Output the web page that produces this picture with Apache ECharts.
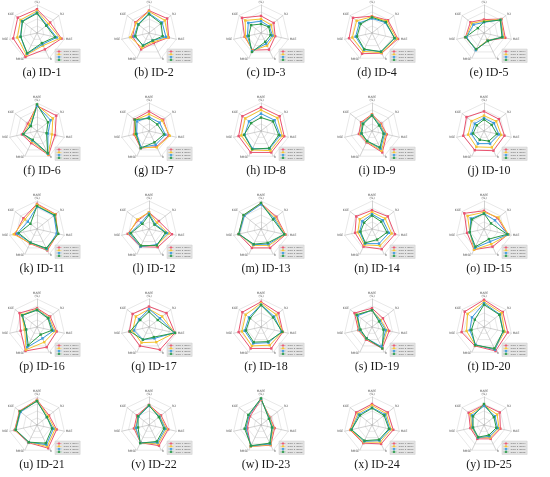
<!DOCTYPE html>
<html><head><meta charset="utf-8">
<script src="https://cdn.jsdelivr.net/npm/echarts@6/dist/echarts.min.js"></script>
<style>html,body{margin:0;padding:0;background:#fff}#c{width:550px;height:477px}</style>
</head><body><div id="c"></div>
<script>
// legend / series names (one per polygon colour)
const seriesNames = ['Case 1 (2019)', 'Case 2 (2020)', 'Case 3 (2021)', 'Case 4 (2022)'];
// axis names, clockwise starting from the top axis
const axisNames = ['MAPE\n(%)', 'R2', 'MAE', 'R', 'RMSE', 'NSE', 'KGE'];
const panelLabels = ['(a) ID-1','(b) ID-2','(c) ID-3','(d) ID-4','(e) ID-5',
  '(f) ID-6','(g) ID-7','(h) ID-8','(i) ID-9','(j) ID-10',
  '(k) ID-11','(l) ID-12','(m) ID-13','(n) ID-14','(o) ID-15',
  '(p) ID-16','(q) ID-17','(r) ID-18','(s) ID-19','(t) ID-20',
  '(u) ID-21','(v) ID-22','(w) ID-23','(x) ID-24','(y) ID-25'];

// values per panel: rows = series (red, yellow, blue, green); columns = axes clockwise from top
const ID1 = [[0.85,0.6,0.9,0.65,0.95,0.87,0.88],[0.79,0.52,0.85,0.5,0.87,0.72,0.75],[0.73,0.45,0.72,0.45,0.82,0.6,0.68],[0.7,0.42,0.66,0.4,0.8,0.6,0.66]];
const ID2 = [[0.8,0.83,0.72,0.4,0.65,0.6,0.62],[0.77,0.72,0.7,0.35,0.58,0.68,0.58],[0.7,0.6,0.62,0.3,0.48,0.55,0.5],[0.67,0.55,0.5,0.3,0.5,0.5,0.48]];
const ID3 = [[0.61,0.58,0.52,0.66,0.68,0.6,0.87],[0.5,0.46,0.46,0.5,0.7,0.57,0.72],[0.42,0.38,0.42,0.42,0.72,0.5,0.58],[0.32,0.35,0.35,0.35,0.75,0.45,0.45]];
const ID4 = [[0.6,0.73,0.95,0.8,0.82,0.84,0.87],[0.58,0.68,0.9,0.78,0.73,0.72,0.7],[0.52,0.6,0.84,0.74,0.66,0.6,0.58],[0.56,0.63,0.82,0.74,0.64,0.55,0.52]];
const ID5 = [[0.48,0.8,0.78,0.3,0.65,0.68,0.62],[0.43,0.78,0.72,0.28,0.66,0.66,0.55],[0.38,0.76,0.68,0.3,0.68,0.64,0.48],[0.4,0.74,0.66,0.32,0.64,0.68,0.28]];
const ID6 = [[0.9,0.88,0.66,0.95,0.48,0.55,0.42],[0.93,0.72,0.55,0.93,0.42,0.5,0.36],[0.9,0.62,0.4,0.9,0.38,0.5,0.3],[0.95,0.5,0.35,0.88,0.35,0.5,0.28]];
const ID7 = [[0.7,0.65,0.72,0.62,0.68,0.55,0.67],[0.6,0.6,0.76,0.65,0.65,0.52,0.63],[0.5,0.48,0.6,0.55,0.65,0.45,0.55],[0.45,0.38,0.55,0.45,0.68,0.48,0.65]];
const ID8 = [[0.85,0.85,0.85,0.85,0.85,0.82,0.85],[0.75,0.75,0.78,0.78,0.75,0.72,0.72],[0.62,0.62,0.7,0.7,0.7,0.6,0.55],[0.48,0.55,0.65,0.68,0.72,0.62,0.45]];
const ID9 = [[0.6,0.42,0.54,0.85,0.45,0.48,0.5],[0.58,0.38,0.5,0.78,0.42,0.43,0.46],[0.56,0.35,0.46,0.7,0.4,0.4,0.43],[0.55,0.32,0.42,0.65,0.4,0.38,0.4]];
const ID10 = [[0.7,0.68,0.75,0.78,0.76,0.76,0.8],[0.55,0.56,0.63,0.65,0.63,0.58,0.57],[0.46,0.45,0.55,0.5,0.5,0.46,0.42],[0.41,0.35,0.47,0.4,0.35,0.4,0.33]];
const ID11 = [[0.9,0.85,0.76,0.85,0.58,0.8,0.62],[0.87,0.83,0.76,0.82,0.56,0.85,0.55],[0.8,0.78,0.72,0.8,0.54,0.73,0.42],[0.82,0.8,0.78,0.76,0.54,0.67,0.3]];
const ID12 = [[0.6,0.45,0.84,0.72,0.7,0.78,0.5],[0.6,0.36,0.72,0.65,0.67,0.73,0.54],[0.55,0.28,0.66,0.62,0.7,0.7,0.36],[0.5,0.25,0.6,0.65,0.66,0.66,0.3]];
const ID13 = [[0.92,0.7,0.9,0.75,0.75,0.82,0.78],[0.9,0.65,0.88,0.65,0.65,0.8,0.78],[0.88,0.6,0.85,0.6,0.62,0.8,0.76],[0.93,0.55,0.85,0.55,0.6,0.82,0.8]];
const ID14 = [[0.67,0.72,0.84,0.8,0.7,0.62,0.72],[0.6,0.6,0.72,0.66,0.63,0.52,0.56],[0.53,0.5,0.62,0.58,0.58,0.45,0.44],[0.48,0.42,0.55,0.42,0.55,0.42,0.36]];
const ID15 = [[0.65,0.62,0.88,0.7,0.82,0.62,0.9],[0.6,0.66,0.9,0.6,0.82,0.52,0.75],[0.55,0.5,0.88,0.5,0.75,0.52,0.6],[0.55,0.32,0.85,0.4,0.7,0.52,0.55]];
const ID16 = [[0.67,0.6,0.72,0.8,0.95,0.6,0.8],[0.64,0.55,0.66,0.6,0.9,0.45,0.7],[0.62,0.52,0.6,0.45,0.8,0.4,0.67],[0.6,0.5,0.54,0.3,0.72,0.4,0.67]];
const ID17 = [[0.73,0.8,0.95,0.9,0.75,0.72,0.75],[0.64,0.6,0.94,0.6,0.62,0.6,0.6],[0.64,0.5,0.93,0.45,0.5,0.55,0.45],[0.55,0.4,0.95,0.4,0.5,0.7,0.4]];
const ID18 = [[0.9,0.8,0.8,0.85,0.85,0.82,0.85],[0.85,0.7,0.78,0.72,0.75,0.7,0.7],[0.8,0.6,0.75,0.62,0.65,0.6,0.55],[0.78,0.55,0.78,0.58,0.6,0.55,0.5]];
const ID19 = [[0.67,0.5,0.63,0.85,0.5,0.5,0.8],[0.6,0.4,0.55,0.8,0.47,0.48,0.7],[0.6,0.36,0.5,0.78,0.45,0.46,0.65],[0.6,0.32,0.42,0.85,0.45,0.42,0.7]];
const ID20 = [[0.97,0.86,0.87,0.95,0.75,0.82,0.88],[0.9,0.8,0.76,0.88,0.72,0.64,0.75],[0.85,0.72,0.7,0.9,0.7,0.52,0.55],[0.8,0.7,0.7,0.85,0.72,0.46,0.42]];
const ID21 = [[0.9,0.55,0.72,0.92,0.7,0.82,0.8],[0.88,0.5,0.66,0.85,0.68,0.8,0.78],[0.86,0.45,0.6,0.78,0.68,0.78,0.75],[0.85,0.45,0.55,0.72,0.68,0.78,0.78]];
const ID22 = [[0.72,0.55,0.7,0.82,0.7,0.55,0.55],[0.7,0.5,0.65,0.75,0.7,0.5,0.5],[0.68,0.48,0.6,0.7,0.7,0.48,0.48],[0.7,0.45,0.55,0.65,0.72,0.4,0.5]];
const ID23 = [[0.9,0.42,0.5,0.8,0.85,0.5,0.5],[0.92,0.4,0.45,0.78,0.85,0.55,0.55],[0.93,0.38,0.42,0.75,0.83,0.55,0.55],[0.95,0.36,0.4,0.72,0.82,0.6,0.58]];
const ID24 = [[0.75,0.72,0.78,0.75,0.72,0.8,0.72],[0.7,0.65,0.7,0.68,0.68,0.78,0.65],[0.62,0.6,0.65,0.62,0.65,0.75,0.6],[0.6,0.55,0.62,0.58,0.62,0.75,0.55]];
const ID25 = [[0.72,0.72,0.6,0.55,0.55,0.5,0.7],[0.7,0.6,0.55,0.5,0.5,0.45,0.62],[0.68,0.5,0.5,0.45,0.5,0.42,0.55],[0.75,0.45,0.45,0.4,0.48,0.4,0.5]];

const panels = [ID1,ID2,ID3,ID4,ID5,ID6,ID7,ID8,ID9,ID10,ID11,ID12,ID13,ID14,ID15,ID16,ID17,ID18,ID19,ID20,ID21,ID22,ID23,ID24,ID25];

const COLORS = ['#e9536f', '#f5c330', '#3b9ae0', '#2a9a48'];
const colX = [37, 149, 261, 372, 484];
const rowY = [33, 131, 229, 327, 425];
const R = 28;
// ECharts lays indicators counter-clockwise from the top; map clockwise data onto that.
const ccw = [0, 6, 5, 4, 3, 2, 1];
const legendIcon = 'path://M0,4.4L12,4.4L12,5.6L0,5.6Z M4,2.5L8,2.5L8,7.5L4,7.5Z';

const radars = [], series = [], legends = [], graphics = [];
panels.forEach((vals, p) => {
  const cx = colX[p % 5], cy = rowY[Math.floor(p / 5)];
  radars.push({
    center: [cx, cy], radius: R, startAngle: 90, splitNumber: 4, shape: 'polygon',
    indicator: ccw.map(i => ({ name: axisNames[i], min: 0, max: 1 })),
    axisName: { color: '#555', fontSize: 3, fontFamily: 'DejaVu Sans', lineHeight: 3 },
    nameGap: 1.5,
    splitLine: { lineStyle: { color: '#d9d9d9', width: 0.6 } },
    splitArea: { show: false },
    axisLine: { lineStyle: { color: '#b3b3b3', width: 0.6 } }
  });
  series.push({
    type: 'radar', radarIndex: p, symbol: 'rect', symbolSize: 2.4, silent: true,
    data: vals.map((v, s) => ({
      name: seriesNames[s],
      value: ccw.map(i => v[i]),
      lineStyle: { color: COLORS[s], width: 1 },
      itemStyle: { color: COLORS[s] }
    }))
  });
  legends.push({
    left: cx + 18, top: cy + 16, orient: 'vertical',
    data: seriesNames, itemWidth: 5, itemHeight: 2.6, itemGap: 0.7,
    padding: [1.5, 1.5], backgroundColor: '#e4e4e4', borderColor: '#cccccc', borderWidth: 0.5,
    icon: legendIcon, selectedMode: false,
    textStyle: { fontSize: 2.4, color: '#666', padding: [0, 0, 0, -3] }
  });
  graphics.push({
    type: 'text', x: cx + 5, y: cy + 40,
    style: { text: panelLabels[p], font: '12px "Liberation Serif"', fill: '#1a1a1a', textAlign: 'center', textVerticalAlign: 'middle' }
  });
});

const chart = echarts.init(document.getElementById('c'), null, { renderer: 'canvas' });
chart.setOption({
  backgroundColor: '#fff',
  color: COLORS,
  animation: false,
  radar: radars,
  legend: legends,
  series: series,
  graphic: graphics
});
</script></body></html>
